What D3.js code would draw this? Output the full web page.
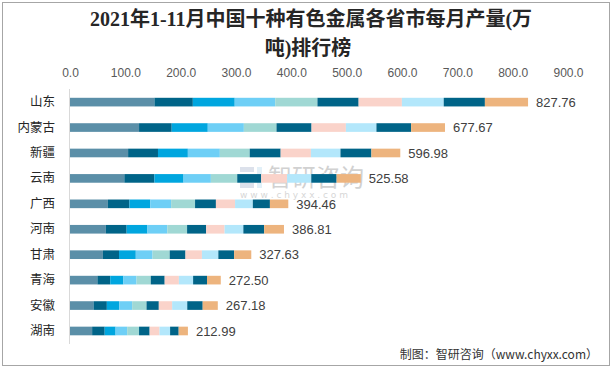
<!DOCTYPE html>
<html><head><meta charset="utf-8">
<script src="https://cdn.jsdelivr.net/npm/d3@7"></script>
<style>
html,body{margin:0;padding:0;background:#fff;}
svg{display:block;}
</style></head>
<body>
<svg id="chart" width="616" height="369"></svg>
<script>
const provinces = ["山东","内蒙古","新疆","云南","广西","河南","甘肃","青海","安徽","湖南"];
const months = ["1-2月","3月","4月","5月","6月","7月","8月","9月","10月","11月"];
const m1_2 = [152.6,124.8,105.0,98.2,68.5,64.8,59.5,49.5,42.5,40.0];
const m3   = [69.4,59.0,54.0,54.4,38.9,37.6,29.1,23.2,24.1,22.7];
const m4   = [75.7,65.2,54.0,52.6,37.7,37.6,30.3,23.8,22.2,19.7];
const m5   = [73.2,65.2,57.8,49.4,37.7,35.8,30.3,23.8,23.5,20.9];
const m6   = [76.3,59.0,54.0,47.6,43.2,35.8,31.0,25.7,26.0,21.5];
const m7   = [74.4,63.3,55.9,43.2,37.7,34.5,28.5,25.1,22.2,19.1];
const m8   = [78.2,62.1,54.7,46.9,34.6,33.3,29.7,25.7,24.1,17.9];
const m9   = [75.6,55.2,53.4,43.8,32.1,33.9,29.7,25.7,27.3,19.1];
const m10  = [74.4,62.7,55.9,45.7,30.9,37.6,28.5,25.1,27.9,15.5];
const m11  = [78.0,61.2,52.2,43.8,33.2,35.8,31.0,24.9,27.3,16.7];
const totals = [827.76,677.67,596.98,525.58,394.46,386.81,327.63,272.50,267.18,212.99];
const tickValues = [0,100,200,300,400,500,600,700,800,900];
const colors = ["#5B8FA8","#006488","#00A6DF","#6ECFF6","#A0D8D4","#006488","#FAD3CA","#B3E7FB","#006488","#EDB47E"];

const series = [m1_2,m3,m4,m5,m6,m7,m8,m9,m10,m11];
const rows = provinces.map((p,i)=>{
  const r = {province:p, total: totals[i]};
  months.forEach((m,j)=>{ r[m] = series[j][i]; });
  return r;
});

const svg = d3.select("#chart");
svg.append("rect").attr("x",2.5).attr("y",2.5).attr("width",607).attr("height",363)
  .attr("fill","#fff").attr("stroke","#a6a6a6").attr("stroke-width",1);

const x = d3.scaleLinear().domain([0,900]).range([70,568]);
const y = d3.scaleBand().domain(provinces).range([89.4,343.7]).paddingInner(0.66).paddingOuter(0.33);

// title
const title = svg.append("text").attr("text-anchor","middle")
  .style("font-family","'Liberation Serif','Noto Sans CJK SC',serif")
  .style("font-weight","bold").style("font-size","20px").attr("fill","#262626");
title.append("tspan").attr("x",311).attr("y",26).text("2021年1-11月中国十种有色金属各省市每月产量(万");
title.append("tspan").attr("x",308).attr("y",55).text("吨)排行榜");

// top axis labels
const axisTop = d3.axisTop(x).tickValues(tickValues).tickFormat(d3.format(".1f")).tickSize(0).tickPadding(0);
const gx = svg.append("g").attr("transform","translate(0,77)").call(axisTop);
gx.select(".domain").remove();
gx.selectAll("text").style("font-family","'Liberation Sans','Noto Sans',sans-serif")
  .style("font-size","12px").attr("fill","#595959");

// left axis line
svg.append("line").attr("x1",69.5).attr("x2",69.5).attr("y1",89).attr("y2",344)
  .attr("stroke","#d9d9d9").attr("stroke-width",1);

// watermark
const wm = svg.append("g").attr("opacity",0.4);
wm.append("rect").attr("x",240).attr("y",167).attr("width",14).attr("height",5).attr("fill","#a9b6cf");
wm.append("rect").attr("x",240).attr("y",175).attr("width",14).attr("height",5).attr("fill","#a9b6cf");
wm.append("rect").attr("x",240).attr("y",183).attr("width",14).attr("height",5).attr("fill","#a9b6cf");
wm.append("rect").attr("x",257).attr("y",167).attr("width",5).attr("height",21).attr("fill","#b9dcf0");
wm.append("text").attr("x",268).attr("y",186).text("智研咨询")
  .style("font-family","'Noto Sans CJK SC',sans-serif").style("font-size","24px").attr("fill","#8d8d8d");
wm.append("text").attr("x",240).attr("y",198).text("w w w . c h y x x . c o m")
  .style("font-family","'DejaVu Sans',sans-serif").style("font-size","9px").attr("fill","#9a9a9a");

// bars
const stack = d3.stack().keys(months)(rows);
svg.append("g").selectAll("g").data(stack).join("g")
  .attr("fill",(d,i)=>colors[i])
  .selectAll("rect").data(d=>d).join("rect")
  .attr("x",d=>x(d[0])).attr("width",d=>x(d[1])-x(d[0]))
  .attr("y",d=>y(d.data.province)).attr("height",y.bandwidth());

// category labels
const yAxis = d3.axisLeft(y).tickSize(0).tickPadding(14);
const gy = svg.append("g").attr("transform","translate(69,0)").call(yAxis);
gy.select(".domain").remove();
gy.selectAll("text").style("font-family","'Noto Sans CJK SC',sans-serif")
  .style("font-size","12.5px").attr("fill","#262626");

// total labels
svg.append("g").selectAll("text").data(rows).join("text")
  .attr("x",d=>x(d3.sum(months,m=>d[m]))+8)
  .attr("y",d=>y(d.province)+y.bandwidth()/2).attr("dy","0.36em")
  .text(d=>d3.format(".2f")(d.total))
  .style("font-family","'Liberation Sans','Noto Sans',sans-serif")
  .style("font-size","13px").attr("fill","#404040");

// footer
svg.append("text").attr("x",598).attr("y",359).attr("text-anchor","end")
  .text("制图：智研咨询（www.chyxx.com）")
  .style("font-family","'Noto Sans CJK SC',sans-serif").style("font-size","12px").attr("fill","#333");
</script>
</body></html>
